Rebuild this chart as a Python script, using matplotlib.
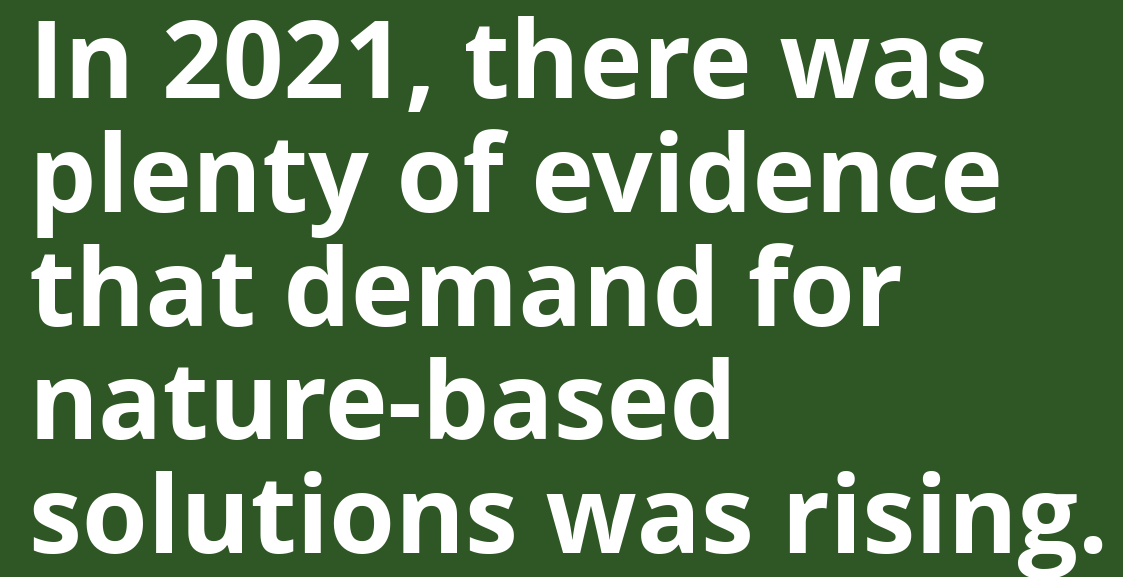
import matplotlib.pyplot as plt

bg_color = '#2F5726'
text_color = 'white'

lines = [
    "In 2021, there was",
    "plenty of evidence",
    "that demand for",
    "nature-based",
    "solutions was rising.",
]

fig = plt.figure(figsize=(11.23, 5.77), dpi=100)
fig.patch.set_facecolor(bg_color)

# baseline positions in pixels from the top
first_baseline = 98
line_step = 113.8
x_left = 29

for i, line in enumerate(lines):
    y_px = first_baseline + i * line_step
    fig.text(x_left / 1123, 1 - y_px / 577, line,
             family='Open Sans', weight='bold', fontsize=76.7,
             color=text_color, ha='left', va='baseline')

fig.savefig('out.png', dpi=100, facecolor=bg_color)
